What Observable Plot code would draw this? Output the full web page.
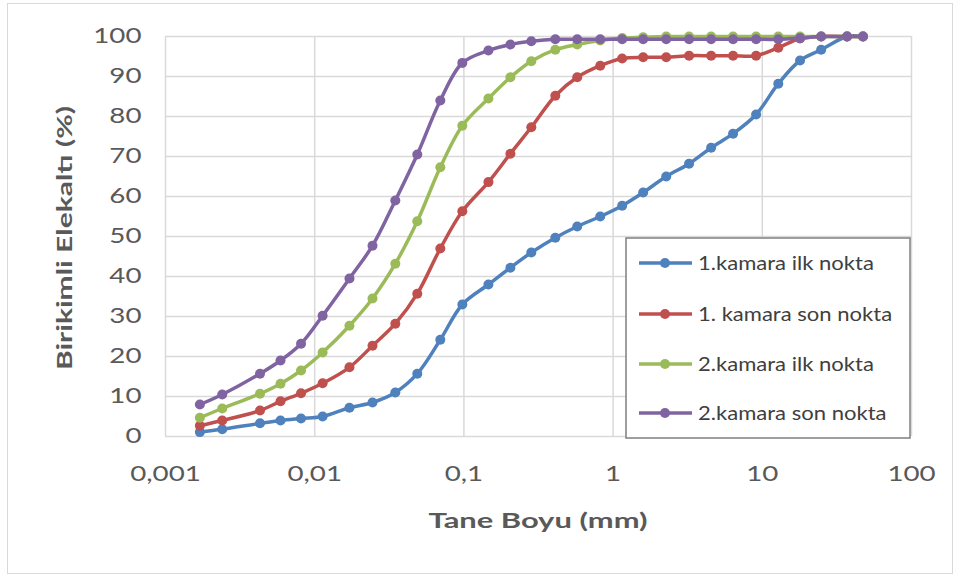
<!DOCTYPE html>
<html><head><meta charset="utf-8">
<script src="https://cdn.jsdelivr.net/npm/d3@7"></script>
<script src="https://cdn.jsdelivr.net/npm/@observablehq/plot@0.6"></script>
<style>
body{margin:0;background:#fff;}
#wrap{position:relative;width:960px;height:578px;overflow:hidden;}
#border{position:absolute;left:7px;top:3px;width:944px;height:569px;border:1.5px solid #d9d9d9;}
#wrap svg{position:absolute;left:0;top:0;}
</style></head><body><div id="wrap"><div id="border"></div></div>
<script>
// ---- data ----
const series = ["1.kamara ilk nokta", "1. kamara son nokta", "2.kamara ilk nokta", "2.kamara son nokta"];
const colors = ["#4F81BD", "#C0504D", "#9BBB59", "#8064A2"];
const sizes = [0.0017, 0.0024, 0.0043, 0.0059, 0.0081, 0.0113, 0.0171, 0.0244, 0.0347, 0.0487,
               0.0695, 0.0976, 0.146, 0.205, 0.283, 0.41, 0.575, 0.82, 1.15, 1.59,
               2.27, 3.23, 4.54, 6.37, 9.09, 12.8, 17.9, 24.8, 37, 47.3];
const kamara1Ilk = [1.1, 1.8, 3.3, 4.0, 4.5, 5.0, 7.2, 8.5, 11.0, 15.7,
                    24.2, 33.0, 38.0, 42.2, 46.0, 49.7, 52.5, 55.0, 57.7, 61.0,
                    65.0, 68.2, 72.2, 75.7, 80.5, 88.2, 94.0, 96.7, 100, 100];
const kamara1Son = [2.7, 4.0, 6.5, 8.8, 10.8, 13.3, 17.3, 22.7, 28.2, 35.7,
                    47.0, 56.3, 63.6, 70.7, 77.3, 85.2, 89.8, 92.7, 94.5, 94.8,
                    94.8, 95.2, 95.2, 95.2, 95.2, 97.2, 99.5, 100, 100, 100];
const kamara2Ilk = [4.7, 7.0, 10.7, 13.2, 16.5, 21.0, 27.7, 34.5, 43.2, 53.8,
                    67.3, 77.7, 84.5, 89.8, 93.8, 96.7, 98.0, 99.0, 99.6, 99.8,
                    100, 100, 100, 100, 100, 100, 100, 100, 100, 100];
const kamara2Son = [8.0, 10.5, 15.7, 19.0, 23.2, 30.2, 39.5, 47.7, 59.0, 70.5,
                    84.0, 93.4, 96.5, 98.0, 98.8, 99.3, 99.3, 99.3, 99.3, 99.3,
                    99.3, 99.3, 99.3, 99.3, 99.3, 99.3, 99.6, 100, 100, 100];
const xTicks = [0.001, 0.01, 0.1, 1, 10, 100];
const yTicks = [0, 10, 20, 30, 40, 50, 60, 70, 80, 90, 100];
const xTitle = "Tane Boyu (mm)";
const yTitle = "Birikimli Elekaltı (%)";

const allValues = [kamara1Ilk, kamara1Son, kamara2Ilk, kamara2Son];
const rows = [];
series.forEach((s, i) => allValues[i].forEach((v, j) => rows.push({series: s, size: sizes[j], pct: v})));

const fmt = d => String(d).replace(".", ",");
const marks = [
  Plot.gridX(xTicks, {stroke: "#d9d9d9", strokeOpacity: 1, strokeWidth: 1.5}),
  Plot.gridY(yTicks, {stroke: "#d9d9d9", strokeOpacity: 1, strokeWidth: 1.5}),
  Plot.axisX(xTicks, {tickFormat: fmt, tickSize: 0, tickPadding: 30, fill: "#595959"}),
  Plot.axisY(yTicks, {tickSize: 0, tickPadding: 24, fill: "#595959"})
];
series.forEach(s => {
  const d = rows.filter(r => r.series === s);
  marks.push(Plot.line(d, {x: "size", y: "pct", stroke: "series", strokeWidth: 3.5, curve: "catmull-rom"}));
  marks.push(Plot.dot(d, {x: "size", y: "pct", fill: "series", r: 5}));
});

const chart = Plot.plot({
  width: 960, height: 578,
  marginLeft: 165, marginRight: 49, marginTop: 36, marginBottom: 142,
  style: {fontFamily: "Lato", fontSize: "21px", background: "transparent", overflow: "visible"},
  x: {type: "log", domain: [0.001, 100], label: null},
  y: {domain: [0, 100], label: null},
  color: {domain: series, range: colors},
  marks
});
document.getElementById("wrap").appendChild(chart);

const svg = d3.select(chart);
// axis titles
svg.append("text").attr("class", "ttl").attr("data-w", 219)
  .attr("x", 538).attr("y", 528).attr("text-anchor", "middle")
  .attr("font-weight", "bold").attr("font-size", 21).attr("fill", "#595959").text(xTitle);
svg.append("text").attr("class", "ttl").attr("data-w", 264)
  .attr("transform", "translate(72,238) rotate(-90)").attr("text-anchor", "middle")
  .attr("font-weight", "bold").attr("font-size", 21).attr("fill", "#595959").text(yTitle);

// legend
const lg = svg.append("g");
lg.append("rect").attr("x", 626).attr("y", 238).attr("width", 284).attr("height", 200)
  .attr("fill", "#fff").attr("stroke", "#7f7f7f").attr("stroke-width", 1.5);
const ly = [263, 314, 364, 413];
series.forEach((s, i) => {
  const g = lg.append("g");
  g.append("line").attr("x1", 639).attr("x2", 692).attr("y1", ly[i]).attr("y2", ly[i])
    .attr("stroke", colors[i]).attr("stroke-width", 3.5);
  g.append("circle").attr("cx", 665).attr("cy", ly[i]).attr("r", 5).attr("fill", colors[i]);
  g.append("text").attr("class", "lgt").attr("x", 698).attr("y", ly[i] + 7)
    .attr("text-anchor", "start")
    .attr("font-size", 19).attr("fill", "#404040").text(s);
});

// horizontal stretch of text to match the reference's wide glyphs
chart.querySelectorAll("text").forEach(el => {
  const len = el.getComputedTextLength();
  if (!len) return;
  let target;
  if (el.classList.contains("ttl")) target = +el.getAttribute("data-w");
  else if (el.classList.contains("lgt")) target = len * 1.16;
  else target = len * 1.32;
  el.setAttribute("textLength", target);
  el.setAttribute("lengthAdjust", "spacingAndGlyphs");
});
</script>
</body></html>
